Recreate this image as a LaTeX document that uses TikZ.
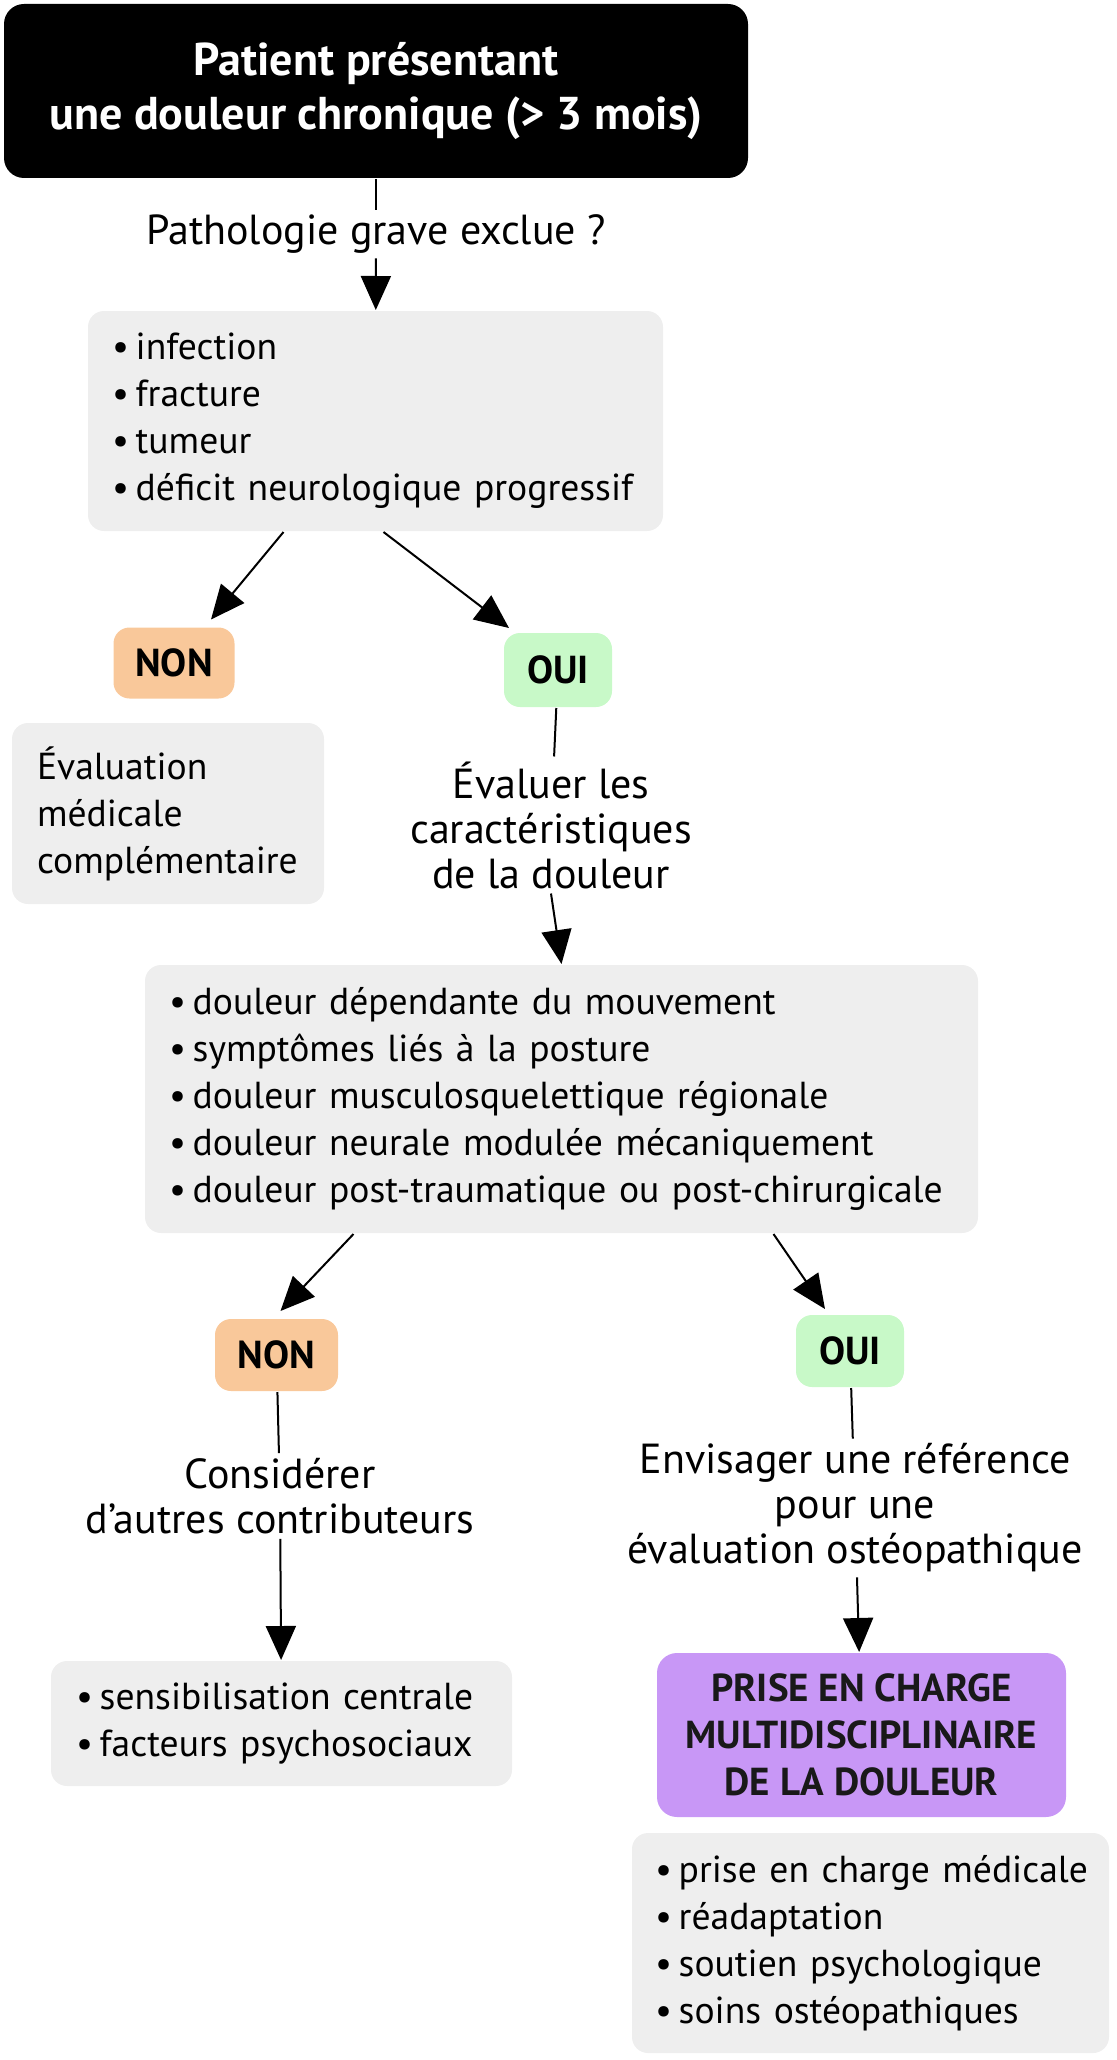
\documentclass[tikz,border=0pt]{standalone}
\usepackage{fontspec}
\setmainfont{PT Sans}
\usepackage{xcolor}
\usetikzlibrary{arrows.meta}
\definecolor{boxgrey}{HTML}{EEEEEE}
\definecolor{nonorange}{HTML}{F9C89A}
\definecolor{ouigreen}{HTML}{C8F9C8}
\definecolor{prisepurple}{HTML}{C897F6}
\newcommand{\itm}[1]{\mbox{\textbullet\hspace{0.18em}#1}}

\begin{document}
\begin{tikzpicture}[x=0.5pt, y=-0.5pt, line width=1pt,
    arr/.style={-{Triangle[width=15pt,length=17pt]}},
    listbox/.style={fill=boxgrey, rounded corners=8pt, align=left, inner xsep=12pt, inner ysep=0pt,
        font=\fontsize{18.8}{23.5}\selectfont},
    askbox/.style={align=center, inner sep=2pt, font=\fontsize{21}{22.5}\selectfont},
    choice/.style={rounded corners=8pt, inner sep=0pt, font=\bfseries\fontsize{19.5}{19.5}\selectfont}]
    \useasboundingbox (0,0) rectangle (1116,2060);
    % Start node
    \node[fill=black, text=white, rounded corners=10pt, align=center, minimum width=372pt, minimum height=87pt,
        font=\bfseries\fontsize{23}{27}\selectfont] (start) at (376,91)
        {Patient présentant\\une douleur chronique (> 3 mois)};
    % First question
    \node[askbox] (ask1) at (376,234) {Pathologie grave exclue ?};
    \node[listbox, minimum height=110pt, text width=263.5pt] (list1) at (375.5,421)
        {\itm{infection}\\\itm{fracture}\\\itm{tumeur}\\\itm{déficit neurologique progressif}};
    % Answers to the first question
    \node[choice, fill=nonorange, minimum width=60.5pt, minimum height=35.5pt] (non1) at (174,663) {NON};
    \node[choice, fill=ouigreen, minimum width=54pt, minimum height=37pt] (oui1) at (558,670) {OUI};
    \node[listbox, minimum height=90.5pt, text width=131pt, inner xsep=12.5pt] (eval1) at (168,813.5)
        {\mbox{Évaluation}\\\mbox{médicale}\\\mbox{complémentaire}};
    % Second question
    \node[askbox] (ask2) at (551,825) {Évaluer les\\caractéristiques\\de la douleur};
    \node[listbox, minimum height=134pt, text width=392.5pt] (list2) at (561.5,1099)
        {\itm{douleur dépendante du mouvement}\\\itm{symptômes liés à la posture}\\
        \itm{douleur musculosquelettique régionale}\\\itm{douleur neurale modulée mécaniquement}\\
        \itm{douleur post-traumatique ou post-chirurgicale}};
    % Answers to the second question
    \node[choice, fill=nonorange, minimum width=61.5pt, minimum height=36pt] (non2) at (276.5,1355) {NON};
    \node[choice, fill=ouigreen, minimum width=54pt, minimum height=36pt] (oui2) at (850,1351) {OUI};
    \node[askbox] (ask3) at (280,1496) {Considérer\\d’autres contributeurs};
    \node[listbox, minimum height=62.5pt, text width=205.5pt, inner xsep=12.5pt] (list3) at (281.5,1723.5)
        {\itm{sensibilisation centrale}\\\itm{facteurs psychosociaux}};
    \node[askbox] (ask4) at (855,1508) {Envisager une référence\\pour une\\évaluation ostéopathique};
    % Final node
    \node[fill=prisepurple, text=black!90, rounded corners=10pt, align=center, minimum width=204.5pt, minimum height=82pt,
        font=\bfseries\fontsize{19.5}{23.5}\selectfont] (prise) at (861.5,1735)
        {PRISE EN CHARGE\\MULTIDISCIPLINAIRE\\DE LA DOULEUR};
    \node[listbox, minimum height=110pt, text width=215.5pt, inner xsep=11.5pt] (list4) at (870.5,1943)
        {\itm{prise en charge médicale}\\\itm{réadaptation}\\\itm{soutien psychologique}\\\itm{soins ostéopathiques}};
    % Connectors
    \draw (start) -- (ask1);
    \draw[arr] (ask1) -- (list1);
    \draw[arr] ([xshift=-46pt]list1.south) -- ([xshift=18.5pt,yshift=3.5pt]non1.north);
    \draw[arr] ([xshift=4pt]list1.south) -- ([xshift=-24.5pt,yshift=2pt]oui1.north);
    \draw (oui1) -- (ask2);
    \draw[arr] (ask2.south) -- (list2.north);
    \draw[arr] ([xshift=-104pt]list2.south) -- ([xshift=2pt,yshift=3.5pt]non2.north);
    \draw[arr] ([xshift=106pt]list2.south) -- ([xshift=-12.5pt,yshift=2.5pt]oui2.north);
    \draw (non2) -- (ask3);
    \draw[arr] (ask3) -- (list3);
    \draw (oui2) -- (ask4);
    \draw[arr] (ask4) -- (prise);
\end{tikzpicture}
\end{document}
